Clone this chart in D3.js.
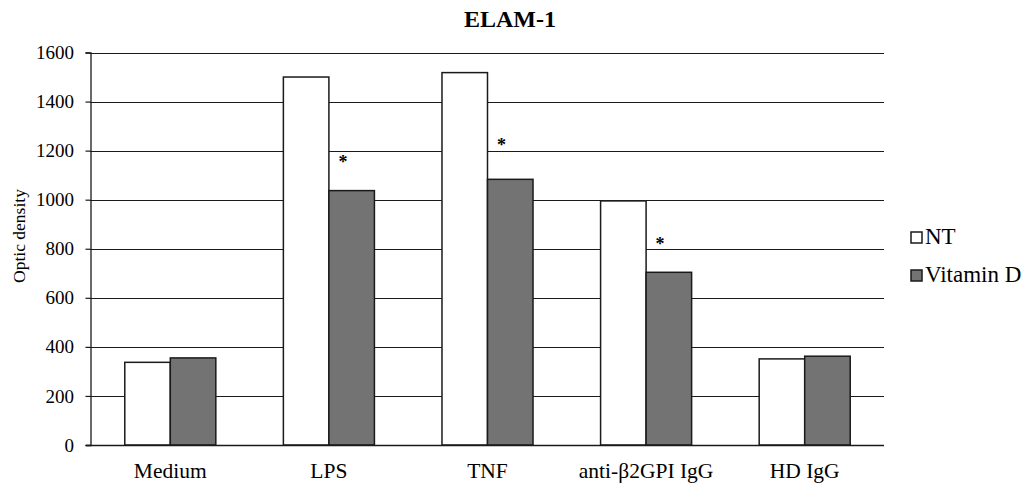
<!DOCTYPE html>
<html>
<head>
<meta charset="utf-8">
<script src="https://cdn.jsdelivr.net/npm/d3@7"></script>
<style>
  body { margin: 0; background: #fff; }
  text { font-family: "Liberation Serif", "Times New Roman", serif; fill: #000; }
</style>
</head>
<body>
<svg id="chart" width="1025" height="483"></svg>
<script>
// data
let categories = ["Medium", "LPS", "TNF", "anti-\u03b22GPI IgG", "HD IgG"];
let seriesNames = ["NT", "Vitamin D"];
let ntValues = [337, 1500, 1518, 995, 351];
let vitDValues = [355, 1037, 1083, 704, 362];
// where the significance stars sit (data units), null = no star
let starLevels = [null, 1130, 1200, 795, null];
let yTicks = [0, 200, 400, 600, 800, 1000, 1200, 1400, 1600];

let colors = ["#ffffff", "#737373"];

let svg = d3.select("#chart");

let pLeft = 91, pRight = 884, pTop = 52.5, pBottom = 445;

let x = d3.scaleBand().domain(categories).range([pLeft, pRight])
        .paddingInner(0.426).paddingOuter(0.213);
let xSub = d3.scaleBand().domain(seriesNames).range([0, x.bandwidth()]);
let y = d3.scaleLinear().domain([0, 1600]).range([pBottom, pTop]);

// gridlines
svg.append("g")
    .selectAll("line")
    .data(yTicks.filter(function(d) { return d > 0; }))
    .enter().append("line")
    .attr("x1", pLeft - 1)
    .attr("x2", pRight)
    .attr("y1", function(d) { return Math.round(y(d)) + 0.5; })
    .attr("y2", function(d) { return Math.round(y(d)) + 0.5; })
    .attr("stroke", "#1a1a1a")
    .attr("stroke-width", 1.2);

// y axis
let yAxis = svg.append("g")
    .attr("transform", "translate(" + (pLeft - 0.5) + ",0)")
    .call(d3.axisLeft(y).tickValues(yTicks).tickSize(5).tickPadding(11.5).tickFormat(d3.format("d")));
yAxis.select(".domain").attr("stroke", "#1a1a1a").attr("stroke-width", 1.3);
yAxis.selectAll(".tick line").attr("stroke", "#1a1a1a").attr("stroke-width", 1.2);
yAxis.selectAll(".tick text")
    .attr("font-size", "19px")
    .attr("font-family", "'Liberation Serif', 'Times New Roman', serif")
    .attr("fill", "#000");

// bars
let rows = categories.map(function(c, i) {
    return { cat: c, values: [ntValues[i], vitDValues[i]], star: starLevels[i] };
});

let groups = svg.selectAll(".grp")
    .data(rows)
    .enter().append("g")
    .attr("class", "grp")
    .attr("transform", function(d) { return "translate(" + x(d.cat) + ",0)"; });

groups.selectAll("rect")
    .data(function(d) { return d.values.map(function(v, j) { return { name: seriesNames[j], v: v, j: j }; }); })
    .enter().append("rect")
    .attr("x", function(d) { return xSub(d.name); })
    .attr("y", function(d) { return y(d.v); })
    .attr("width", xSub.bandwidth())
    .attr("height", function(d) { return pBottom - y(d.v); })
    .attr("fill", function(d) { return colors[d.j]; })
    .attr("stroke", "#1a1a1a")
    .attr("stroke-width", 1.5);

// stars
groups.filter(function(d) { return d.star != null; })
    .append("text")
    .attr("x", xSub("Vitamin D") + 14)
    .attr("y", function(d) { return y(d.star); })
    .attr("text-anchor", "middle")
    .attr("font-size", "18px")
    .attr("font-weight", "bold")
    .text("*");

// x axis line
svg.append("line")
    .attr("x1", pLeft - 5)
    .attr("x2", pRight)
    .attr("y1", pBottom + 0.5)
    .attr("y2", pBottom + 0.5)
    .attr("stroke", "#1a1a1a")
    .attr("stroke-width", 1.5);

// x labels
svg.append("g")
    .selectAll("text")
    .data(categories)
    .enter().append("text")
    .attr("x", function(d) { return x(d) + x.bandwidth() / 2; })
    .attr("y", 478)
    .attr("text-anchor", "middle")
    .attr("font-size", "21.5px")
    .text(function(d) { return d; });

// y title
svg.append("text")
    .attr("transform", "translate(25,236) rotate(-90)")
    .attr("text-anchor", "middle")
    .attr("font-size", "17.5px")
    .text("Optic density");

// title
svg.append("text")
    .attr("x", 510)
    .attr("y", 27)
    .attr("text-anchor", "middle")
    .attr("font-size", "24px")
    .attr("font-weight", "bold")
    .text("ELAM-1");

// legend
let legend = svg.selectAll(".leg")
    .data(seriesNames)
    .enter().append("g")
    .attr("class", "leg")
    .attr("transform", function(d, i) { return "translate(911," + (232 + i * 38) + ")"; });

legend.append("rect")
    .attr("width", 11)
    .attr("height", 11)
    .attr("fill", function(d, i) { return colors[i]; })
    .attr("stroke", "#1a1a1a")
    .attr("stroke-width", 1.5);

legend.append("text")
    .attr("x", 14)
    .attr("y", 12)
    .attr("font-size", "23px")
    .text(function(d) { return d; });
</script>
</body>
</html>
